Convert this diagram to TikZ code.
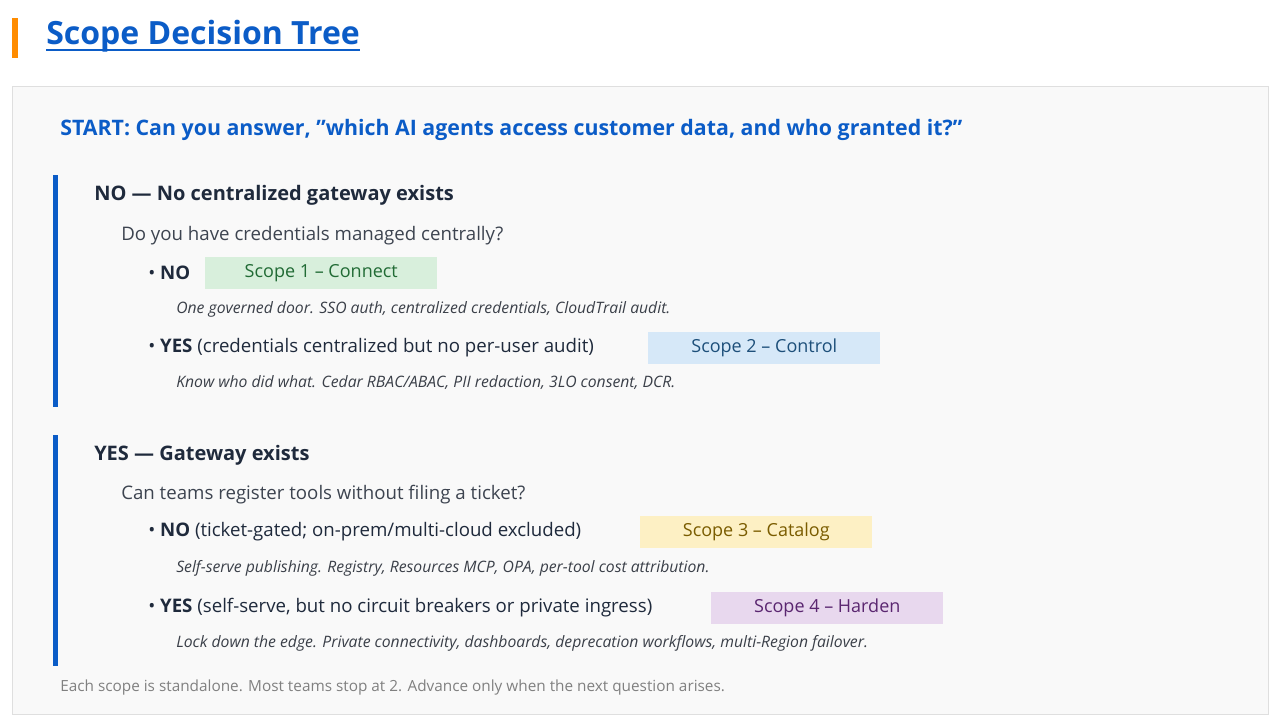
\documentclass[tikz,border=0pt]{standalone}
\usepackage{fontspec}
\setmainfont{Open Sans}
\begin{document}
\definecolor{tblue}{HTML}{0B5CC7}
\definecolor{dark}{HTML}{1F2A3C}
\definecolor{body}{HTML}{3D4450}
\definecolor{ital}{HTML}{3A3F48}
\definecolor{f1}{HTML}{D8EFDC}\definecolor{t1}{HTML}{216B35}
\definecolor{f2}{HTML}{D6E8F8}\definecolor{t2}{HTML}{1D4F7A}
\definecolor{f3}{HTML}{FDF0C4}\definecolor{t3}{HTML}{7A5C00}
\definecolor{f4}{HTML}{E8D8EE}\definecolor{t4}{HTML}{5A2670}
\begin{tikzpicture}[x=0.75pt,y=-0.75pt,
  txt/.style={anchor=west,inner sep=0pt},
  head/.style={txt,font=\fontsize{15pt}{18pt}\selectfont\bfseries,text=dark},
  ques/.style={txt,font=\fontsize{14pt}{17pt}\selectfont,text=body},
  opt/.style={txt,font=\fontsize{14pt}{17pt}\selectfont,text=dark},
  note/.style={txt,font=\fontsize{11.8pt}{14pt}\selectfont\itshape,text=ital},
  scope/.style={anchor=west,minimum width=174pt,minimum height=24pt,inner sep=0pt,font=\fontsize{13.5pt}{16pt}\selectfont},
  sbar/.style={fill=tblue,draw=none}]
\useasboundingbox (0,0) rectangle (1280,722);
\fill[white] (0,0) rectangle (1280,722);
\fill[orange!90!yellow] (12,18) rectangle (18,58);
\node[txt,font=\fontsize{24pt}{30pt}\selectfont\bfseries,text=tblue] (title) at (46,36) {Scope Decision Tree};
\draw[tblue,line width=1.5pt] ([yshift=-4pt]title.base west) -- ([yshift=-4pt]title.base east);
\draw[fill=gray!5,draw=gray!25] (12,86) rectangle (1268,714);
\node[txt,font=\fontsize{16pt}{19pt}\selectfont\bfseries,text=tblue] (start) at (60,130) {START: Can you answer, \symbol{34}which AI agents access customer data, and who granted it?\symbol{34}};
\fill[sbar] (53,175) rectangle (58,407);
\fill[sbar] (53,435) rectangle (58,666);
\node[head] (h1) at (94,195) {NO — No centralized gateway exists};
\node[ques] (q1) at (121,236) {Do you have credentials managed centrally?};
\node[opt] (o1) at (148,273) {• \textbf{NO}};
\node[scope,fill=f1,text=t1] (s1) at (205,273) {Scope 1 – Connect};
\node[note] (n1) at (176,309) {One governed door. SSO auth, centralized credentials, CloudTrail audit.};
\node[opt] (o2) at (148,348) {• \textbf{YES} (credentials centralized but no per-user audit)};
\node[scope,fill=f2,text=t2] (s2) at (648,348) {Scope 2 – Control};
\node[note] (n2) at (176,383) {Know who did what. Cedar RBAC/ABAC, PII redaction, 3LO consent, DCR.};
\node[head] (h2) at (94,455) {YES — Gateway exists};
\node[ques] (q2) at (121,495) {Can teams register tools without filing a ticket?};
\node[opt] (o3) at (148,532) {• \textbf{NO} (ticket-gated; on-prem/multi-cloud excluded)};
\node[scope,fill=f3,text=t3] (s3) at (640,532) {Scope 3 – Catalog};
\node[note] (n3) at (176,568) {Self-serve publishing. Registry, Resources MCP, OPA, per-tool cost attribution.};
\node[opt] (o4) at (148,608) {• \textbf{YES} (self-serve, but no circuit breakers or private ingress)};
\node[scope,fill=f4,text=t4] (s4) at (711,608) {Scope 4 – Harden};
\node[note] (n4) at (176,643) {Lock down the edge. Private connectivity, dashboards, deprecation workflows, multi-Region failover.};
\node[txt,font=\fontsize{11.5pt}{14pt}\selectfont,text=gray] (foot) at (60,688) {Each scope is standalone. Most teams stop at 2. Advance only when the next question arises.};
\end{tikzpicture}
\end{document}
